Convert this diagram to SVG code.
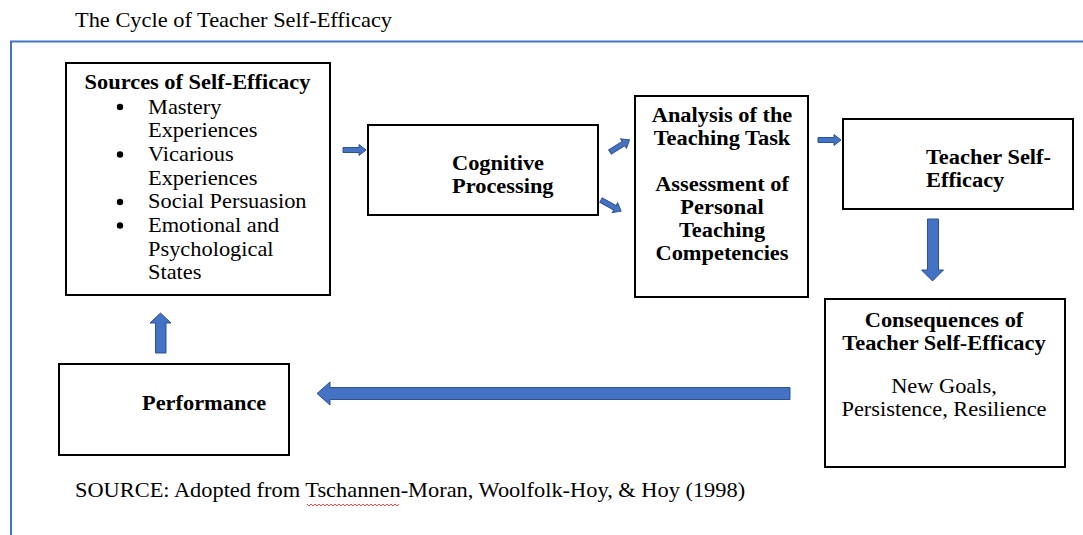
<svg xmlns="http://www.w3.org/2000/svg" width="1083" height="535" viewBox="0 0 1083 535">
  <style>
    .box { fill: #ffffff; stroke: #000000; stroke-width: 2; }
    .t { font-size: 20px; fill: #000000; }
    .b { font-weight: bold; }
    .arr { fill: #4472C4; stroke: #2F528F; stroke-width: 1; }
    .frame { fill: none; stroke: #4472C4; stroke-width: 2; }
  </style>
  <defs>
    <path id="small" d="M0,-2.5 H16 V-5.5 L23,0 L16,5.5 V2.5 H0 Z"/>
  </defs>
  <rect width="1083" height="535" fill="#ffffff"/>

  <g font-family="Liberation Serif, DejaVu Serif, serif">
  <g id="frame">
    <text class="t" transform="translate(75,27) scale(1.12,1)">The Cycle of Teacher Self-Efficacy</text>
    <path class="frame" d="M11,535 V41.5 H1083"/>
  </g>

  <g id="connectors">
    <use href="#small" class="arr" transform="translate(343,150)"/>
    <use href="#small" class="arr" transform="translate(610,152) rotate(-32)"/>
    <use href="#small" class="arr" transform="translate(601,200) rotate(29)"/>
    <use href="#small" class="arr" transform="translate(818,140)"/>
    <path class="arr" d="M927.5,219 H938.5 V270 H943.5 L932.5,281 L921.5,270 H927.5 Z"/>
    <path class="arr" d="M790,387.5 V399.5 H330 V405 L317,393.5 L330,382 V387.5 Z"/>
    <path class="arr" d="M155.5,353 H166 V323 H171 L160.5,313 L150,323 H155.5 Z"/>
  </g>

  <g id="sources">
    <rect class="box" x="66" y="63" width="264" height="232"/>
    <text class="t b" text-anchor="middle" transform="translate(197.5,89) scale(1.12,1)">Sources of Self-Efficacy</text>
    <circle cx="120" cy="107" r="3.2"/>
    <circle cx="120" cy="154.5" r="3.2"/>
    <circle cx="120" cy="202" r="3.2"/>
    <circle cx="120" cy="225.5" r="3.2"/>
    <text class="t" transform="translate(148,113.5) scale(1.12,1)">Mastery</text>
    <text class="t" transform="translate(148,137) scale(1.12,1)">Experiences</text>
    <text class="t" transform="translate(148,161) scale(1.12,1)">Vicarious</text>
    <text class="t" transform="translate(148,184.5) scale(1.12,1)">Experiences</text>
    <text class="t" transform="translate(148,208) scale(1.12,1)">Social Persuasion</text>
    <text class="t" transform="translate(148,232) scale(1.12,1)">Emotional and</text>
    <text class="t" transform="translate(148,255.5) scale(1.12,1)">Psychological</text>
    <text class="t" transform="translate(148,279) scale(1.12,1)">States</text>
  </g>

  <g id="cognitive">
    <rect class="box" x="368" y="125" width="230" height="90"/>
    <text class="t b" transform="translate(452,170) scale(1.12,1)">Cognitive</text>
    <text class="t b" transform="translate(452,193) scale(1.12,1)">Processing</text>
  </g>

  <g id="analysis">
    <rect class="box" x="635" y="96" width="173" height="201"/>
    <text class="t b" text-anchor="middle" transform="translate(722,122) scale(1.12,1)">Analysis of the</text>
    <text class="t b" text-anchor="middle" transform="translate(722,145) scale(1.12,1)">Teaching Task</text>
    <text class="t b" text-anchor="middle" transform="translate(722,191) scale(1.12,1)">Assessment of</text>
    <text class="t b" text-anchor="middle" transform="translate(722,214) scale(1.12,1)">Personal</text>
    <text class="t b" text-anchor="middle" transform="translate(722,237) scale(1.12,1)">Teaching</text>
    <text class="t b" text-anchor="middle" transform="translate(722,260) scale(1.12,1)">Competencies</text>
  </g>

  <g id="teacher-self-efficacy">
    <rect class="box" x="843" y="119" width="230" height="90"/>
    <text class="t b" transform="translate(926,164) scale(1.12,1)">Teacher Self-</text>
    <text class="t b" transform="translate(926,187) scale(1.12,1)">Efficacy</text>
  </g>

  <g id="consequences">
    <rect class="box" x="825" y="299" width="240" height="168"/>
    <text class="t b" text-anchor="middle" transform="translate(944,327) scale(1.12,1)">Consequences of</text>
    <text class="t b" text-anchor="middle" transform="translate(944,350) scale(1.12,1)">Teacher Self-Efficacy</text>
    <text class="t" text-anchor="middle" transform="translate(944,393) scale(1.12,1)">New Goals,</text>
    <text class="t" text-anchor="middle" transform="translate(944,416) scale(1.12,1)">Persistence, Resilience</text>
  </g>

  <g id="performance">
    <rect class="box" x="59" y="364" width="230" height="91"/>
    <text class="t b" transform="translate(142,410) scale(1.12,1)">Performance</text>
  </g>

  <g id="source-note">
    <text class="t" transform="translate(75,497) scale(1.12,1)">SOURCE: Adopted from Tschannen-Moran, Woolfolk-Hoy, &amp; Hoy (1998)</text>
    <path d="M307,504 l2,2 l2,-2 l2,2 l2,-2 l2,2 l2,-2 l2,2 l2,-2 l2,2 l2,-2 l2,2 l2,-2 l2,2 l2,-2 l2,2 l2,-2 l2,2 l2,-2 l2,2 l2,-2 l2,2 l2,-2 l2,2 l2,-2 l2,2 l2,-2 l2,2 l2,-2 l2,2 l2,-2 l2,2 l2,-2 l2,2 l2,-2 l2,2 l2,-2 l2,2 l2,-2 l2,2 l2,-2 l2,2 l2,-2 l2,2 l2,-2 l2,2 l2,-2" fill="none" stroke="#e02020" stroke-width="0.8"/>
  </g>
  </g>
</svg>
